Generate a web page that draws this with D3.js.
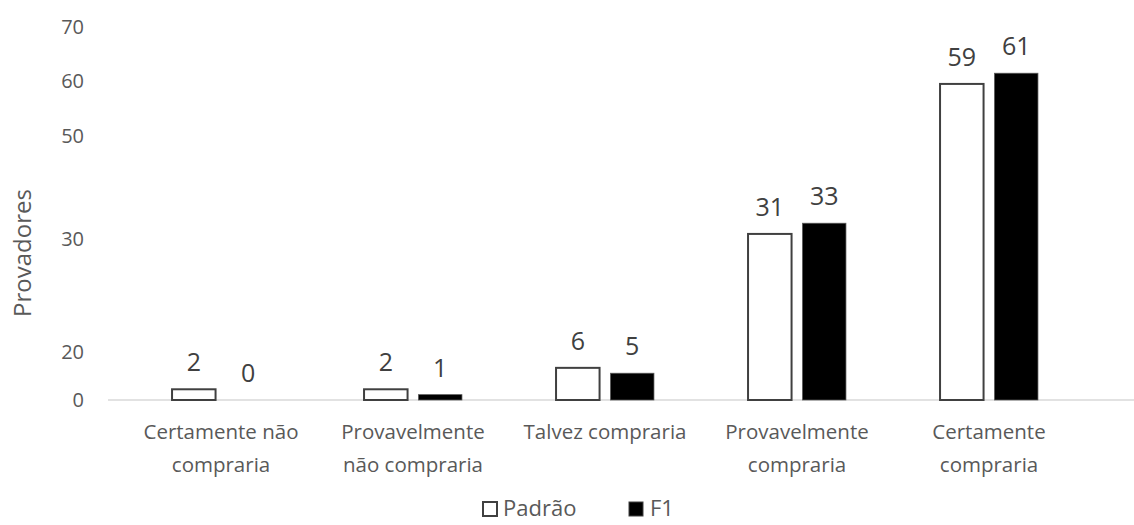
<!DOCTYPE html>
<html>
<head>
<meta charset="utf-8">
<script src="https://cdn.jsdelivr.net/npm/d3@7"></script>
<style>
  html, body { margin: 0; padding: 0; background: #fff; }
  svg { display: block; font-family: "Open Sans", sans-serif; }
</style>
</head>
<body>
<svg id="chart" width="1134" height="525"></svg>
<script>
// ---- data ----
const categories = [
  ["Certamente não", "compraria"],
  ["Provavelmente", "não compraria"],
  ["Talvez compraria"],
  ["Provavelmente", "compraria"],
  ["Certamente", "compraria"]
];
const seriesNames = ["Padrão", "F1"];
const padraoValues = [2, 2, 6, 31, 59];
const f1Values = [0, 1, 5, 33, 61];
// y-axis tick labels as printed in the reference, with the value each sits at
const yTickLabels = ["0", "20", "30", "50", "60", "70"];
const yTickAt = [0, 9, 30, 49.3, 59.6, 69.6];
const yTitle = "Provadores";

// ---- layout ----
const W = 1134, H = 525;
const axisY = 400, topY = 25;
const svg = d3.select("#chart");
const textColor = "#595959";

const catKeys = categories.map(c => c.join(" "));
const x0 = d3.scaleBand().domain(catKeys).range([125, 1085])
  .paddingInner(0.49).paddingOuter(0.245);
const x1 = d3.scaleBand().domain(seriesNames).range([0, x0.bandwidth()]).paddingInner(0.2);
const y = d3.scaleLinear().domain([0, 70]).range([axisY, topY]);

const rows = catKeys.map((k, i) => ({
  key: k,
  vals: [
    { s: "Padrão", v: padraoValues[i] },
    { s: "F1", v: f1Values[i] }
  ]
}));

// axis line
svg.append("line")
  .attr("x1", 108).attr("x2", W)
  .attr("y1", y(0)).attr("y2", y(0))
  .attr("stroke", "#d9d9d9").attr("stroke-width", 1.5);

// y tick labels
const yAxis = d3.axisLeft(y).tickValues(yTickAt)
  .tickFormat((d, i) => yTickLabels[i]).tickSize(0).tickPadding(0);
const yg = svg.append("g").attr("transform", "translate(84,0)").call(yAxis);
yg.select(".domain").remove();
yg.selectAll("text")
  .attr("fill", textColor)
  .style("font-family", "'Open Sans', sans-serif")
  .style("font-size", "20px");

// y title
svg.append("text")
  .attr("transform", `translate(31,${253}) rotate(-90)`)
  .attr("text-anchor", "middle")
  .attr("fill", textColor)
  .style("font-size", "24px")
  .text(yTitle);

// bars
const groups = svg.selectAll("g.cat").data(rows).join("g")
  .attr("class", "cat")
  .attr("transform", d => `translate(${x0(d.key)},0)`);

groups.selectAll("rect").data(d => d.vals).join("rect")
  .attr("x", d => x1(d.s))
  .attr("width", x1.bandwidth())
  .attr("y", d => y(d.v))
  .attr("height", d => y(0) - y(d.v))
  .attr("fill", d => d.s === "Padrão" ? "#ffffff" : "#000000")
  .attr("stroke", d => d.s === "Padrão" ? "#404040" : "#595959")
  .attr("stroke-width", d => d.s === "Padrão" ? 2 : 0.75);

// value labels
groups.selectAll("text.val").data(d => d.vals).join("text")
  .attr("class", "val")
  .attr("x", d => x1(d.s) + x1.bandwidth() / 2)
  .attr("y", d => y(d.v) - 18)
  .attr("text-anchor", "middle")
  .attr("fill", "#404040")
  .style("font-size", "25px")
  .text(d => d.v);

// category labels
const cl = svg.selectAll("text.cat").data(rows).join("text")
  .attr("class", "cat")
  .attr("text-anchor", "middle")
  .attr("fill", textColor)
  .style("font-size", "20.5px")
  .attr("transform", d => `translate(${x0(d.key) + x0.bandwidth() / 2},0)`);
cl.each(function(d, i) {
  const t = d3.select(this);
  categories[i].forEach((line, j) => {
    t.append("tspan").attr("x", 0).attr("y", 439 + j * 33).text(line);
  });
});

// legend
const legend = svg.append("g").attr("transform", "translate(482,500)");
const legItems = [
  { s: "Padrão", dx: 0 },
  { s: "F1", dx: 146 }
];
const li = legend.selectAll("g").data(legItems).join("g")
  .attr("transform", d => `translate(${d.dx},0)`);
li.append("rect")
  .attr("x", 1).attr("y", 2).attr("width", 14).attr("height", 14)
  .attr("fill", d => d.s === "Padrão" ? "#fff" : "#000")
  .attr("stroke", "#404040")
  .attr("stroke-width", d => d.s === "Padrão" ? 2 : 1);
li.append("text")
  .attr("x", d => d.s === "Padrão" ? 21 : 22)
  .attr("y", 16)
  .attr("fill", textColor)
  .style("font-size", "22px")
  .text(d => d.s);
</script>
</body>
</html>
